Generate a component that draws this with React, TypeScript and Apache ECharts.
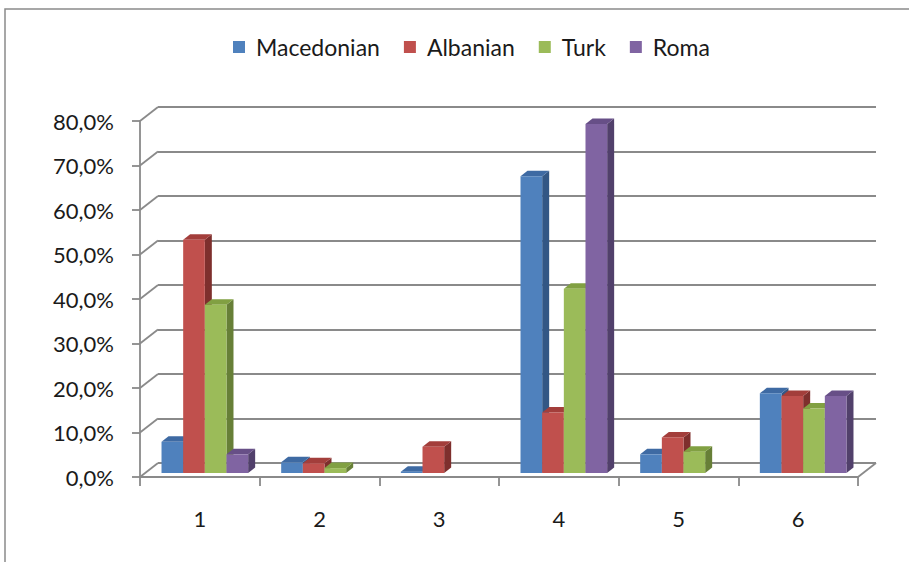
import React, { useEffect, useRef } from "react";
import * as echarts from "echarts";

const categories = ["1", "2", "3", "4", "5", "6"];
const seriesNames = ["Macedonian", "Albanian", "Turk", "Roma"];
const macedonian = [7.0, 2.4, 0.3, 66.7, 4.2, 17.9];
const albanian = [52.4, 2.2, 5.9, 13.6, 8.0, 17.3];
const turk = [37.8, 1.1, 0, 41.4, 4.8, 14.5];
const roma = [4.2, 0, 0, 78.4, 0, 17.3];
const yTicks = [0, 10, 20, 30, 40, 50, 60, 70, 80];

const seriesValues = [macedonian, albanian, turk, roma];
const frontColors = ["#4F81BD", "#C0504D", "#9BBB59", "#8064A2"];
const topColors = ["#3E6AA3", "#A33E3B", "#81A042", "#674F87"];
const sideColors = ["#335785", "#7E2F2D", "#677F37", "#51406B"];

const FONT = "Lato, 'Open Sans', 'Liberation Sans', sans-serif";
const LINE = "#8a8a8a";
// depth projection (back wall offset) and bar placement in depth
const WALL_DX = 18;
const WALL_DY = -14;
const BAR_FX = 5;
const BAR_FY = -4;
const BAR_DX = 7;
const BAR_DY = -5.5;
const BAR_FRAC = 0.181;

export default function App() {
  const ref = useRef<HTMLDivElement>(null);
  useEffect(() => {
    if (!ref.current) return;
    const chart = echarts.init(ref.current, null, { renderer: "svg" });

    const barSeries = seriesValues.map((vals, idx) => ({
      type: "custom",
      name: seriesNames[idx],
      xAxisIndex: 0,
      yAxisIndex: 0,
      itemStyle: { color: frontColors[idx] },
      encode: { x: 0, y: 1 },
      data: categories.map((_, i) => [i, vals[i]]),
      z: 5,
      renderItem: (params: any, api: any) => {
        const v = api.value(1);
        if (!v) return null;
        const cat = api.value(0);
        const top = api.coord([cat, v]);
        const base = api.coord([cat, 0]);
        const w = api.size([1, 0])[0];
        const bw = w * BAR_FRAC;
        const x0 = top[0] - 2 * bw + idx * bw + BAR_FX;
        const x1 = x0 + bw;
        const yT = top[1] + BAR_FY;
        const yB = base[1] + BAR_FY;
        return {
          type: "group",
          children: [
            {
              type: "polygon",
              shape: { points: [[x1, yT], [x1 + BAR_DX, yT + BAR_DY], [x1 + BAR_DX, yB + BAR_DY], [x1, yB]] },
              style: { fill: sideColors[idx] },
            },
            {
              type: "polygon",
              shape: { points: [[x0, yT], [x1, yT], [x1 + BAR_DX, yT + BAR_DY], [x0 + BAR_DX, yT + BAR_DY]] },
              style: { fill: topColors[idx] },
            },
            {
              type: "rect",
              shape: { x: x0, y: yT, width: bw, height: yB - yT },
              style: { fill: frontColors[idx] },
            },
          ],
        };
      },
    }));

    const structureSeries = {
      type: "custom",
      name: "wall",
      xAxisIndex: 0,
      yAxisIndex: 0,
      encode: { x: 0, y: 1 },
      data: yTicks.map((t) => [0, t]),
      z: 1,
      silent: true,
      renderItem: (params: any, api: any) => {
        const v = api.value(1);
        const y = api.coord([0, v])[1];
        const cs = params.coordSys;
        const children: any[] = [
          {
            type: "line",
            shape: { x1: cs.x, y1: y, x2: cs.x + WALL_DX, y2: y + WALL_DY },
            style: { stroke: LINE, lineWidth: 1.8 },
          },
        ];
        if (v === 0) {
          children.push({
            type: "line",
            shape: { x1: cs.x + cs.width, y1: y, x2: cs.x + cs.width + WALL_DX, y2: y + WALL_DY },
            style: { stroke: LINE, lineWidth: 1.8 },
          });
        }
        return { type: "group", children };
      },
    };

    chart.setOption({
      animation: false,
      backgroundColor: "#ffffff",
      graphic: [
        {
          type: "rect",
          shape: { x: 5, y: 9, width: 2000, height: 2000 },
          style: { fill: "none", stroke: LINE, lineWidth: 1.5 },
          silent: true,
        },
      ],
      legend: {
        data: seriesNames,
        left: 228,
        top: 30,
        icon: "rect",
        itemWidth: 12,
        itemHeight: 12,
        itemGap: 24,
        textStyle: {
          fontFamily: FONT,
          fontSize: 23,
          color: "#1a1a1a",
          padding: [0, 0, 0, 6],
          lineHeight: 24,
        },
      },
      grid: [
        { left: 140, right: 51, top: 121, bottom: 85 },
        { left: 140 + WALL_DX, right: 51 - WALL_DX, top: 121 + WALL_DY, bottom: 85 - WALL_DY },
      ],
      xAxis: [
        {
          type: "category",
          gridIndex: 0,
          data: categories,
          axisLine: { lineStyle: { color: LINE, width: 1.8 } },
          axisTick: { show: true, length: 9, lineStyle: { color: LINE, width: 1.8 } },
          axisLabel: { margin: 30, fontFamily: FONT, fontSize: 22, color: "#1a1a1a" },
          splitLine: { show: false },
        },
        {
          type: "category",
          gridIndex: 1,
          data: categories,
          show: false,
        },
      ],
      yAxis: [
        {
          type: "value",
          gridIndex: 0,
          min: 0,
          max: 80,
          interval: 10,
          axisLine: { show: true, lineStyle: { color: LINE, width: 1.8 } },
          axisTick: { show: true, length: 8, lineStyle: { color: LINE, width: 1.8 } },
          axisLabel: {
            margin: 26,
            fontFamily: FONT,
            fontSize: 22,
            color: "#1a1a1a",
            formatter: (v: number) => v.toFixed(1).replace(".", ",") + "%",
          },
          splitLine: { show: false },
        },
        {
          type: "value",
          gridIndex: 1,
          min: 0,
          max: 80,
          interval: 10,
          axisLine: { show: false },
          axisTick: { show: false },
          axisLabel: { show: false },
          splitLine: { show: true, lineStyle: { color: LINE, width: 1.8 } },
        },
      ],
      series: [structureSeries, ...barSeries],
    });
    return () => chart.dispose();
  }, []);
  return (
    <div
      ref={ref}
      style={{ position: "fixed", left: 0, top: 0, width: 909, height: 562, background: "#fff" }}
    />
  );
}
